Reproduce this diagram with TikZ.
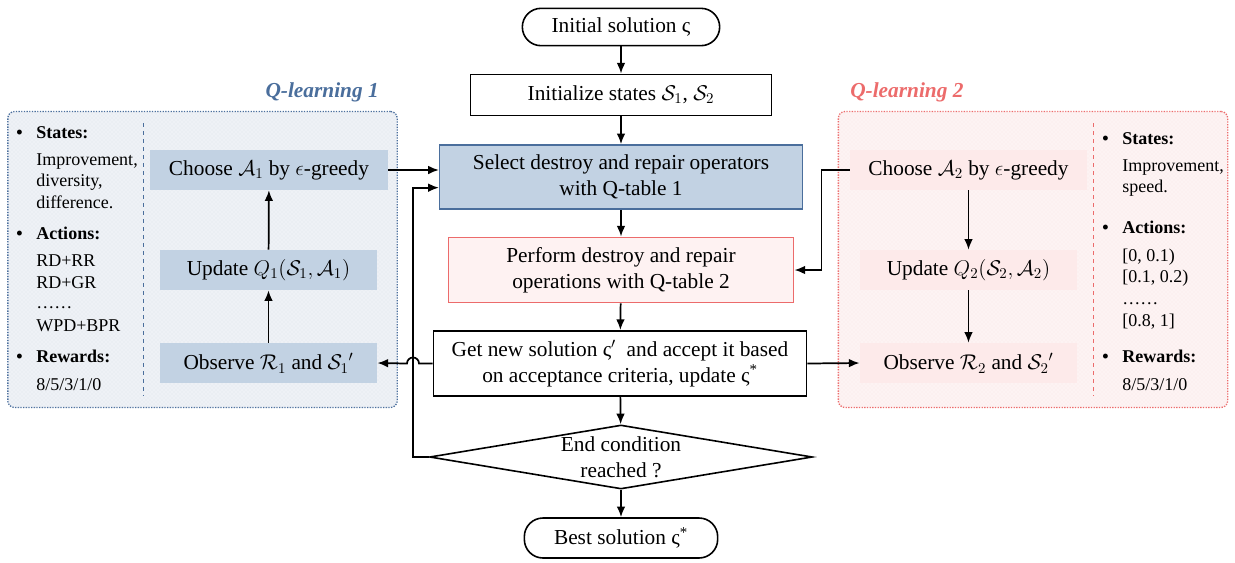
\RequirePackage{fix-cm}
\documentclass[tikz,border=0pt]{standalone}
\usepackage{amsmath}
\usepackage{fontspec}
\setmainfont{Liberation Serif}
\usepackage{xcolor}
\usetikzlibrary{arrows.meta,shapes.geometric,patterns}
\definecolor{qblue}{HTML}{4A6E9C}
\definecolor{qbluefill}{HTML}{C2D2E3}
\definecolor{qbluebg}{HTML}{EEF1F6}
\definecolor{qpink}{HTML}{EC6B6B}
\definecolor{qpinkfill}{HTML}{FDEAEA}
\definecolor{qpinkbg}{HTML}{FDF3F3}
\newcommand{\qbul}{\makebox[15pt][l]{\textbullet}}
\tikzset{
    main-font/.style = {font=\fontsize{16}{19.5}\selectfont},
    flow-box/.style = {draw, line width=1.2pt, rectangle, align=center, main-font, inner sep=2pt},
    term-box/.style = {flow-box, rounded corners=14pt, minimum width=148pt, minimum height=28pt},
    dec-box/.style = {draw, line width=1.2pt, diamond, aspect=6, inner sep=0pt, align=center, main-font, minimum width=287pt, minimum height=48pt},
    blue-box/.style = {rectangle, fill=qbluefill, main-font, minimum height=30pt},
    pink-box/.style = {rectangle, fill=qpinkfill, main-font, minimum height=30pt},
    panel/.style = {rectangle, rounded corners=5pt, densely dotted, line width=1pt, minimum height=222pt, minimum width=292pt},
    panel-title/.style = {font=\fontsize{16}{19}\selectfont\bfseries\itshape, inner sep=0pt},
    side-text/.style = {anchor=west, inner sep=0pt, text height=1.5ex, text depth=.25ex, font=\fontsize{13.5}{16}\selectfont},
    side-head/.style = {side-text, font=\fontsize{13.5}{16}\selectfont\bfseries},
    arr/.style = {-{Latex[length=8pt,width=6.5pt]}, line width=1.3pt},
}
\begin{document}
\begin{tikzpicture}[x=0.75pt, y=-0.75pt]
\useasboundingbox (0,0) rectangle (1235,562);

% the two Q-learning panels
\node (pnl1) [panel, draw=qblue, fill=qbluebg, postaction={pattern=crosshatch dots, pattern color=qblue!18}] at (202.5,259.5) {};
\node (pnl2) [panel, draw=qpink, fill=qpinkbg, postaction={pattern=crosshatch dots, pattern color=qpink!15}] at (1033,259.5) {};
\draw[qblue, dashed, line width=0.7pt] (143,123) -- (143,396);
\draw[qpink, dashed, line width=0.7pt] (1093,123) -- (1093,396);
\node (ttl1) [panel-title, text=qblue, anchor=east] at (379,92) {Q-learning 1};
\node (ttl2) [panel-title, text=qpink, anchor=west] at (850,92) {Q-learning 2};

% state/action/reward lists
\foreach \y/\h [count=\i] in {135/States:, 236/Actions:, 359/Rewards:}
    \node (hl\i) [side-head] at (16,\y) {\qbul\h};
\foreach \y/\t [count=\i] in {162/{Improvement,}, 183/{diversity,}, 205/difference., 263/RD+RR, 285/RD+GR, 305/……, 328/WPD+BPR, 387/{8/5/3/1/0}}
    \node (vl\i) [side-text] at (36,\y) {\t};
\foreach \y/\h [count=\i] in {141/States:, 230/Actions:, 359/Rewards:}
    \node (hr\i) [side-head] at (1102,\y) {\qbul\h};
\foreach \y/\t [count=\i] in {168/{Improvement,}, 189/speed., 258/{[0, 0.1)}, 279/{[0.1, 0.2)}, 301/……, 323/{[0.8, 1]}, 387/{8/5/3/1/0}}
    \node (vr\i) [side-text] at (1122,\y) {\t};

% main flow
\node (init) [term-box] at (621,27) {Initial solution ς};
\node (inits) [flow-box, minimum width=226pt, minimum height=31pt] at (621,95) {Initialize states $\mathcal{S}_1$, $\mathcal{S}_2$};
\node (sel) [flow-box, draw=qblue, fill=qbluefill, minimum width=272pt, minimum height=48pt] at (621,177) {Select destroy and repair operators\\with Q-table 1};
\node (perf) [flow-box, draw=qpink, fill=qpinkfill!60, minimum width=259pt, minimum height=49pt] at (621,270) {Perform destroy and repair\\operations with Q-table 2};
\node (getsol) [flow-box, minimum width=280pt, minimum height=49pt] at (620,363.5) {Get new solution ς$'$~ and accept it based\\on acceptance criteria, update ς\textsuperscript{*}};
\node (dec) [dec-box] at (621,457) {End condition\\reached ?};
\node (best) [term-box, minimum width=145pt, minimum height=30pt] at (621,538) {Best solution ς\textsuperscript{*}};

% Q-learning 1 loop
\node (ch1) [blue-box, minimum width=178.5pt] at (269,170) {Choose $\mathcal{A}_1$ by $\epsilon$-greedy};
\node (upd1) [blue-box, minimum width=163pt] at (268.5,270) {Update $Q_1(\mathcal{S}_1,\mathcal{A}_1)$};
\node (obs1) [blue-box, minimum width=163pt] at (268.5,363) {Observe $\mathcal{R}_1$ and ${\mathcal{S}_1}'$};

% Q-learning 2 loop
\node (ch2) [pink-box, minimum width=178pt] at (968.5,170) {Choose $\mathcal{A}_2$ by $\epsilon$-greedy};
\node (upd2) [pink-box, minimum width=163pt] at (968.5,270) {Update $Q_2(\mathcal{S}_2,\mathcal{A}_2)$};
\node (obs2) [pink-box, minimum width=163pt] at (968.5,363) {Observe $\mathcal{R}_2$ and ${\mathcal{S}_2}'$};

\coordinate (fb) at (413,457);

\draw[arr] (init) -- (inits);
\draw[arr] (inits) -- (sel);
\draw[arr] (sel) -- (perf);
\draw[arr] (perf) -- (getsol);
\draw[arr] (getsol) -- (dec);
\draw[arr] (dec) -- (best);
\draw[arr] (obs1) -- (upd1);
\draw[arr] (upd1) -- (ch1);
\draw[arr] (ch1.east) -- (ch1.east -| sel.west);
\draw[arr] (ch2) -- (upd2);
\draw[arr] (upd2) -- (obs2);
\draw[arr] (ch2.west) -- ++(-21pt,0) |- (perf.east);
\draw[arr] (getsol.east) -- (obs2.west);
% loop back while the end condition fails
\draw[arr] (dec.west) -- (fb) |- ([yshift=-8pt]sel.west);
\draw[arr] (getsol.west) -- ([xshift=4.5pt]fb |- getsol.west) arc[start angle=0, end angle=180, radius=4.5pt] -- (obs1.east);
\end{tikzpicture}
\end{document}
